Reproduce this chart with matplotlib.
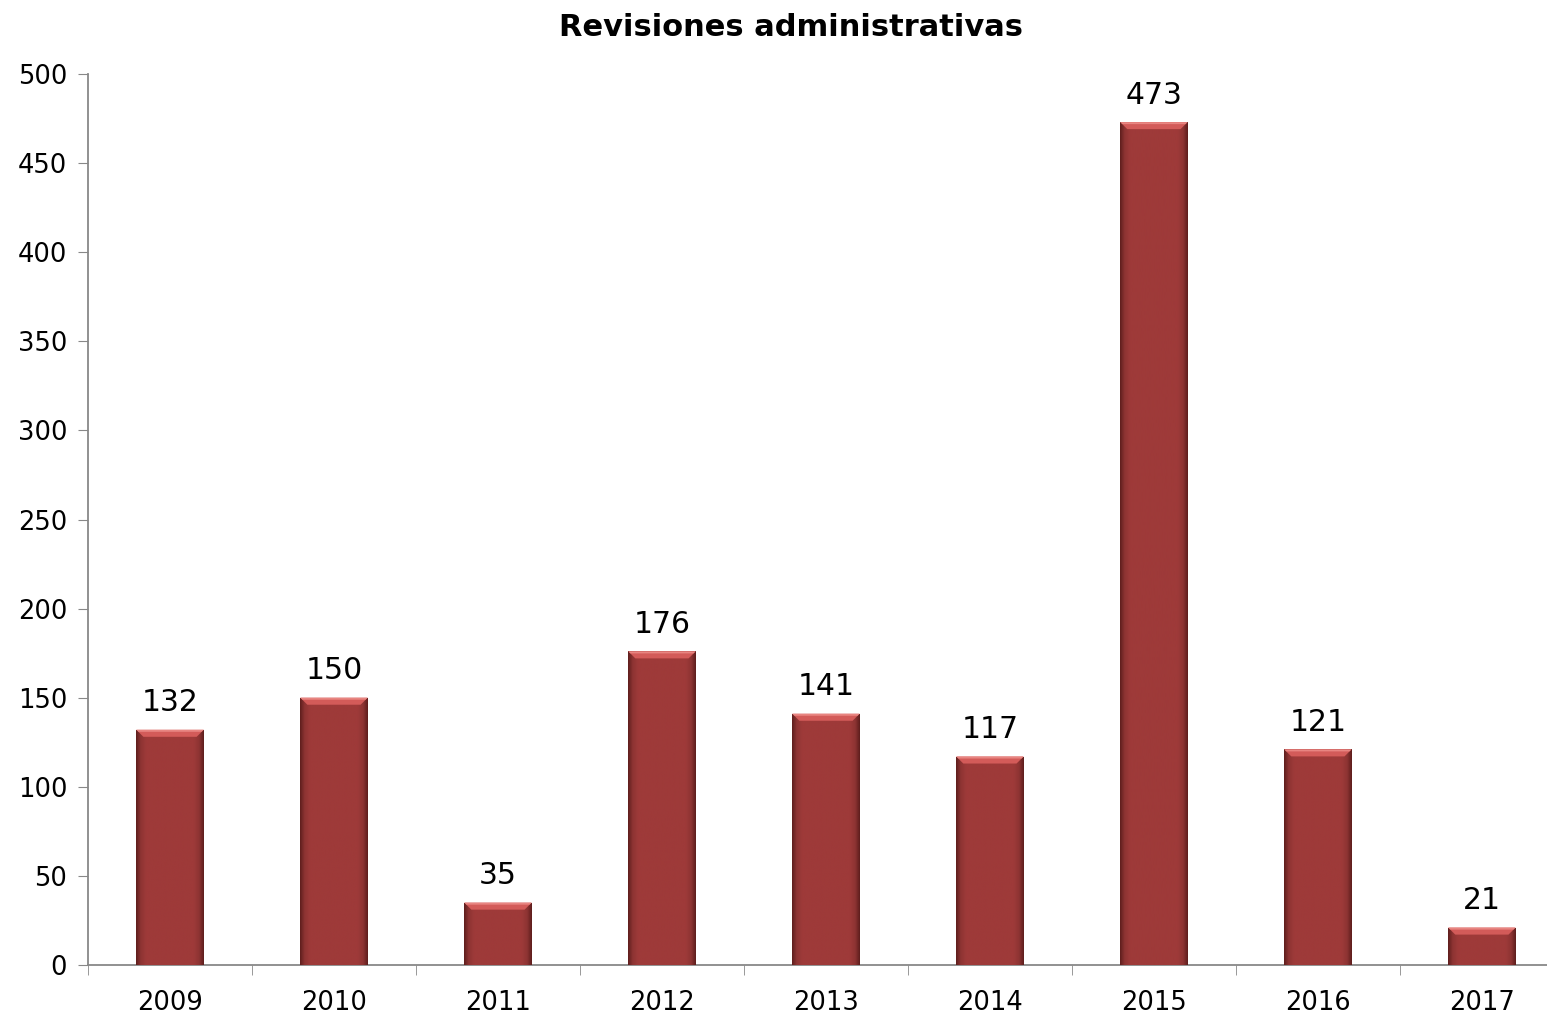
import matplotlib.pyplot as plt
import numpy as np
from matplotlib.colors import LinearSegmentedColormap
from matplotlib.patches import Polygon

anios = ['2009', '2010', '2011', '2012', '2013', '2014', '2015', '2016', '2017']
revisiones = [132, 150, 35, 176, 141, 117, 473, 121, 21]

plt.rcParams['font.family'] = ['DejaVu Sans']

fig = plt.figure(figsize=(15.47, 10.14), dpi=100)
# el eje se sale un poco por la derecha, como en el original
ax = fig.add_axes([0.0569, 0.0483, 0.954, 0.8787])

x = np.arange(len(anios))
barras = ax.bar(x, revisiones, width=0.41, color='#9e3a39', zorder=2)

# sombreado horizontal: bordes oscuros estrechos
sombra = LinearSegmentedColormap.from_list(
    's', [(0, '#5e1e1d'), (0.07, '#8e3433'), (0.15, '#9e3a39'),
          (0.85, '#9e3a39'), (0.93, '#8e3433'), (1, '#5e1e1d')])
grad = np.linspace(0, 1, 256).reshape(1, -1)
px = 500 / 891  # unidades de datos por pixel en y
px_x = 9 / 1476  # unidades de datos por pixel en x
for b in barras:
    x0, w, h = b.get_x(), b.get_width(), b.get_height()
    im = ax.imshow(grad, cmap=sombra, extent=(x0, x0 + w, 0, h), aspect='auto', zorder=3)
    im.set_clip_path(b)
    bev = 7
    ax.add_patch(Polygon([(x0, h), (x0 + w, h), (x0 + w - bev * px_x, h - bev * px),
                          (x0 + bev * px_x, h - bev * px)],
                         closed=True, color='#d35b59', lw=0, zorder=4))
    ax.add_patch(Polygon([(x0, h), (x0 + w, h), (x0 + w - 2 * px_x, h - 2 * px),
                          (x0 + 2 * px_x, h - 2 * px)],
                         closed=True, color='#e88581', lw=0, zorder=4))
    ax.text(b.get_x() + w / 2, h + 7, str(int(h)), ha='center', va='bottom', fontsize=21.5, zorder=5)

ax.set_xlim(-0.5, len(anios) - 0.5)
ax.set_ylim(0, 500)
ax.set_yticks(np.arange(0, 501, 50))
ax.set_xticks(x)
ax.set_xticklabels(anios)
ax.set_xticks(np.arange(-0.5, len(anios), 1), minor=True)
ax.tick_params(axis='x', which='major', length=0, labelsize=18.5, pad=18)
ax.tick_params(axis='x', which='minor', length=7, color='#888888', direction='out')
ax.tick_params(axis='y', length=7, color='#888888', labelsize=18.5, pad=8)

for lado in ['top', 'right']:
    ax.spines[lado].set_visible(False)
for lado in ['left', 'bottom']:
    ax.spines[lado].set_color('#888888')
    ax.spines[lado].set_linewidth(1.3)

fig.text(0.511, 0.973, 'Revisiones administrativas', ha='center', va='center',
         fontsize=22, fontweight='bold')

fig.savefig('out.png', dpi=100)
